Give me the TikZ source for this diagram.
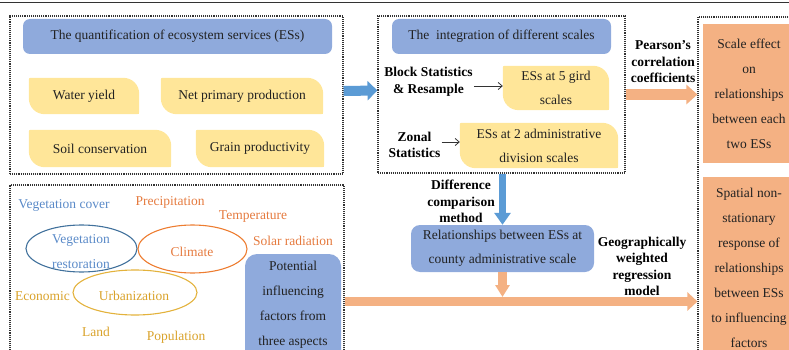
\documentclass[tikz,border=0pt]{standalone}
\usepackage{fontspec}
\setmainfont{Liberation Serif}
\usetikzlibrary{arrows.meta,shapes.geometric,backgrounds,calc}

\definecolor{titleblue}{HTML}{8FAADC}
\definecolor{leafyellow}{HTML}{FFE699}
\definecolor{peach}{HTML}{F4B183}
\definecolor{arrowblue}{HTML}{5B9BD5}
\definecolor{vegtext}{HTML}{5A8AC8}
\definecolor{vegring}{HTML}{41719C}
\definecolor{climtext}{HTML}{E57A3E}
\definecolor{climring}{HTML}{ED7D31}
\definecolor{urbtext}{HTML}{D9A22A}
\definecolor{urbring}{HTML}{E3B23C}
\definecolor{ink}{HTML}{222222}
\definecolor{framegray}{HTML}{333333}

% leaf-shaped yellow background: large rounding at top right and bottom left
\newcommand\leafbg[1]{%
  \fill[leafyellow]
    ([xshift=4pt]#1.north west) -- ([xshift=-16pt]#1.north east)
    .. controls ([xshift=-7pt]#1.north east) and ([yshift=-7pt]#1.north east) .. ([yshift=-16pt]#1.north east)
    -- ([yshift=3pt]#1.south east)
    .. controls (#1.south east) .. ([xshift=-3pt]#1.south east)
    -- ([xshift=16pt]#1.south west)
    .. controls ([xshift=7pt]#1.south west) and ([yshift=7pt]#1.south west) .. ([yshift=16pt]#1.south west)
    -- ([yshift=-4pt]#1.north west)
    .. controls (#1.north west) .. ([xshift=4pt]#1.north west) -- cycle;}

\begin{document}
\begin{tikzpicture}[x=1pt,y=-1pt,
  font=\fontsize{13.5}{16.5}\selectfont,
  frame/.style={draw=framegray, densely dotted, line width=1.1pt, inner sep=0pt},
  titlebox/.style={fill=titleblue, rounded corners=7pt, text=ink, inner sep=0pt, minimum height=35pt},
  leaf/.style={text=ink, inner sep=0pt, align=center, font=\fontsize{13.5}{24}\selectfont},
  peachbox/.style={fill=peach, text=ink, inner sep=0pt, align=center, minimum width=92pt, font=\fontsize{13.5}{25}\selectfont},
  method/.style={text=black, inner sep=1pt, align=center, font=\fontsize{13.5}{16.5}\selectfont\bfseries},
  thinarrow/.style={draw=framegray, line width=0.8pt, -{Straight Barb[length=4pt,width=7pt]}},
  ring/.style={ellipse, draw, line width=1.1pt, inner sep=0pt},
  tag/.style={inner sep=1pt}
]
\useasboundingbox (0,0) rectangle (789,350);

% rule across the top
\draw[line width=1.6pt, draw=framegray] (0,2.5) -- (789,2.5);

% ---------------- dotted frames ----------------
\node[frame, minimum width=333pt, minimum height=158pt] (box1) at (176.5,95) {};
\node[frame, minimum width=247pt, minimum height=157pt] (box2) at (501.5,94.5) {};
\node[frame, minimum width=102pt, minimum height=348pt] (box3) at (749,191) {};
\node[frame, minimum width=334pt, minimum height=180pt] (box4) at (177,275) {};

% ---------------- ES quantification ----------------
\node[titlebox, minimum width=309pt] (quant) at (177.5,36.5) {The quantification of ecosystem services (ESs)};
\node[leaf, minimum width=110pt, minimum height=36pt] (wy) at (84,96) {Water yield};
\node[leaf, minimum width=162pt, minimum height=36pt] (npp) at (242,96) {Net primary production};
\node[leaf, minimum width=142pt, minimum height=37pt] (sc) at (100,148.5) {Soil conservation};
\node[leaf, minimum width=128pt, minimum height=37pt] (gp) at (260,148.5) {Grain productivity};

% ---------------- scale integration ----------------
\node[titlebox, minimum width=219pt] (integ) at (501.5,36.5) {The\ \ integration of different scales};
\node[method] (bsr) at (428.5,82) {Block Statistics\\\& Resample};
\node[leaf, minimum width=106pt, minimum height=44pt] (e5) at (556,88) {ESs at 5 gird\\scales};
\node[method] (zs) at (414.5,145) {Zonal\\Statistics};
\node[leaf, minimum width=158pt, minimum height=45pt] (e2) at (539,145.5) {ESs at 2 administrative\\division scales};

\begin{scope}[on background layer]
  \leafbg{wy}\leafbg{npp}\leafbg{sc}\leafbg{gp}\leafbg{e5}\leafbg{e2}
\end{scope}

\coordinate (bsrout) at ([yshift=-4pt]bsr.east);
\coordinate (zsout) at ([yshift=3pt]zs.east);
\draw[thinarrow] (bsrout) -- (e5.west |- bsrout);
\draw[thinarrow] (zsout) -- (e2.west |- zsout);

% ---------------- outcomes ----------------
\node[peachbox, minimum height=139pt] (scaleeff) at (749,93.5)
  {Scale effect\\on\\relationships\\between each\\two ESs};
\node[peachbox, minimum height=182pt] (spatial) at (749,268)
  {Spatial non-\\stationary\\response of\\relationships\\between ESs\\to influencing\\factors};

\node[method] (pearson) at (663,62) {Pearson's\\correlation\\coefficients};

% ---------------- county relationships ----------------
\node[method] (diff) at (461,201.5) {Difference\\comparison\\method};
\node[fill=titleblue, rounded corners=9pt, text=ink, inner sep=0pt, align=center,
      minimum width=183pt, minimum height=47pt, font=\fontsize{13.5}{24}\selectfont] (rel) at (502.5,248.5)
  {Relationships between ESs at\\county administrative scale};
\node[method] (gwr) at (642,266.5) {Geographically\\weighted\\regression\\model};

% ---------------- influencing factors ----------------
\node[ring, draw=vegring, minimum width=111pt, minimum height=47pt] (vr) at (81.5,248.5) {};
\node[ring, draw=climring, minimum width=109pt, minimum height=48pt] (cl) at (192.5,249) {};
\node[ring, draw=urbring, minimum width=124pt, minimum height=45pt] (ur) at (135,292.5) {};

\node[tag, text=vegtext, align=center, font=\fontsize{13.5}{25}\selectfont] (vrt) at (81,251.5) {Vegetation\\restoration};
\node[tag, text=climtext] (clt) at (192,252) {Climate};
\node[tag, text=urbtext] (urt) at (134,296) {Urbanization};

\node[tag, text=vegtext] (vcov) at (64,205) {Vegetation cover};
\node[tag, text=climtext] (prec) at (170,202) {Precipitation};
\node[tag, text=climtext] (temp) at (253,217) {Temperature};
\node[tag, text=climtext] (solar) at (293,241) {Solar radiation};
\node[tag, text=urbtext] (econ) at (42.5,296) {Economic};
\node[tag, text=urbtext] (land) at (96,332) {Land};
\node[tag, text=urbtext] (popu) at (176,337) {Population};

\node[fill=titleblue, rounded corners=12pt, inner sep=0pt, minimum width=96pt, minimum height=115pt] (pot) at (293,311.5) {};
\node[text=ink, inner sep=0pt, align=center, font=\fontsize{13.5}{25}\selectfont] (pottxt) at (293,304.5)
  {Potential\\influencing\\factors from\\three aspects};

% ---------------- flow arrows ----------------
\coordinate (bus) at (502.5,301.5);
\coordinate (busin) at (502.5,297);
\draw[draw=arrowblue, line width=10pt, -{Triangle[width=19pt,length=10pt]}]
  ([yshift=4pt]box1.east) -- ([yshift=4pt]box2.west);
\draw[draw=peach, line width=11pt, -{Triangle[width=19pt,length=11pt]}]
  (box2.east) -- (box3.west |- box2.east);
\draw[draw=arrowblue, line width=7.5pt, -{Triangle[width=16pt,length=12pt]}]
  (rel.north |- box2.south) -- (rel.north);
\draw[draw=peach, line width=9pt, -{Triangle[width=14pt,length=12pt]}]
  (rel.south) -- (busin);
\draw[draw=peach, line width=9pt, -{Triangle[width=18pt,length=10pt]}]
  (box4.east |- bus) -- (box3.west |- bus);
\end{tikzpicture}
\end{document}
